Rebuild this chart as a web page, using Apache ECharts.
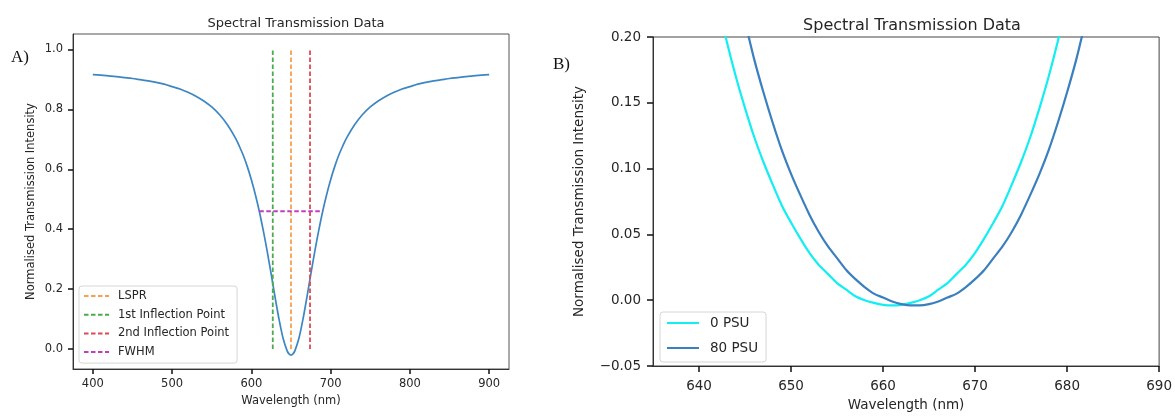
<!DOCTYPE html>
<html>
<head>
<meta charset="utf-8">
<script src="https://cdn.jsdelivr.net/npm/echarts@6/dist/echarts.min.js"></script>
<style>
  html, body { margin: 0; padding: 0; background: #fff; }
  #chart { width: 1175px; height: 417px; }
</style>
</head>
<body>
<div id="chart"></div>
<script>
// ---- panel A: full spectrum ----
const waveA = [400, 410, 420, 430, 440, 450, 460, 470, 480, 490, 500, 510, 520, 530, 540, 550, 560, 570, 580, 585, 590, 595,
  600, 605, 610, 615, 620, 625, 630, 635, 640, 645, 647.5, 650, 652.5, 655, 660, 665, 670, 675, 680, 685, 690, 695, 700,
  705, 710, 715, 720, 730, 740, 750, 760, 770, 780, 790, 800, 810, 820, 830, 840, 850, 860, 870, 880, 890, 900]
const transA = [0.916, 0.914, 0.912, 0.909, 0.906, 0.903, 0.899, 0.895, 0.890, 0.884, 0.876, 0.868, 0.857, 0.844, 0.828, 0.808, 0.782, 0.748, 0.704, 0.676, 0.645, 0.608,
  0.565, 0.516, 0.460, 0.396, 0.326, 0.250, 0.172, 0.098, 0.036, -0.005, -0.016, -0.020, -0.016, -0.005, 0.036, 0.098, 0.172, 0.250, 0.326, 0.396, 0.460, 0.516, 0.565,
  0.608, 0.645, 0.676, 0.704, 0.748, 0.782, 0.808, 0.828, 0.844, 0.857, 0.868, 0.876, 0.884, 0.890, 0.895, 0.899, 0.903, 0.906, 0.909, 0.912, 0.914, 0.916]
const lsprX = 650
const inflect1X = 627
const inflect2X = 674
const markerY = [0, 1]
const fwhmX = [610, 690]
const fwhmY = 0.46
const xTicksA = [400, 500, 600, 700, 800, 900]
const yTicksA = [0, 0.2, 0.4, 0.6, 0.8, 1.0]

// ---- panel B: zoom on the dip ----
const wave0 = [641, 642, 643, 644, 645, 646, 647, 648, 649, 650, 651, 652, 653, 654, 655, 656, 657, 658, 659, 660,
  661, 662, 663, 664, 665, 666, 667, 668, 669, 670, 671, 672, 673, 674, 675, 676, 677, 678, 679, 680, 681]
const trans0 = [0.260, 0.227, 0.197, 0.170, 0.146, 0.124, 0.105, 0.088, 0.072, 0.059, 0.047, 0.036, 0.027, 0.020, 0.013, 0.008, 0.003, 0.000, -0.002, -0.0035,
  -0.004, -0.0035, -0.002, 0.000, 0.003, 0.008, 0.013, 0.020, 0.027, 0.036, 0.047, 0.059, 0.072, 0.088, 0.105, 0.124, 0.146, 0.170, 0.197, 0.227, 0.260]
const wave80 = [644, 645, 646, 647, 648, 649, 650, 651, 652, 653, 654, 655, 656, 657, 658, 659, 660, 661, 662, 663,
  664, 665, 666, 667, 668, 669, 670, 671, 672, 673, 674, 675, 676, 677, 678, 679, 680, 681, 682, 683]
const trans80 = [0.243, 0.212, 0.183, 0.158, 0.135, 0.114, 0.096, 0.080, 0.065, 0.052, 0.041, 0.032, 0.023, 0.016, 0.010, 0.005, 0.002, -0.001, -0.003, -0.004,
  -0.004, -0.003, -0.001, 0.002, 0.005, 0.010, 0.016, 0.023, 0.032, 0.041, 0.052, 0.065, 0.080, 0.096, 0.114, 0.135, 0.158, 0.183, 0.212, 0.243]
const xTicksB = [640, 650, 660, 670, 680, 690]
const yTicksB = [-0.05, 0, 0.05, 0.1, 0.15, 0.2]

const zip = (xs, ys) => xs.map((x, i) => [x, ys[i]])
const vline = x => markerY.map(y => [x, y])

const FONT = 'DejaVu Sans'
const TXT = '#262626'

// shared axis look, matplotlib style: box from the grid, ticks outside, no split lines
function axis(opts) {
  const { ticks, fmt, size, margin, tickLen, ...rest } = opts
  return {
    type: 'value',
    axisLine: { show: true, onZero: false, lineStyle: { color: '#333', width: 1 } },
    axisTick: { show: true, inside: false, length: tickLen, customValues: ticks, lineStyle: { color: '#111', width: 1.5 } },
    axisLabel: { customValues: ticks, formatter: fmt, color: TXT, fontFamily: FONT, fontSize: size, margin: margin },
    splitLine: { show: false },
    nameTextStyle: { color: TXT, fontFamily: FONT, fontSize: size },
    nameLocation: 'middle',
    ...rest
  }
}

const chart = echarts.init(document.getElementById('chart'))

const dash = [4.5, 2.5]

// legend: line only, hide the marker ECharts adds for line series
const legendBase = {
  orient: 'vertical',
  borderColor: '#d6d6d6', borderWidth: 1, borderRadius: 3, backgroundColor: 'rgba(255,255,255,0.8)',
  itemStyle: { opacity: 0 }
}

chart.setOption({
  animation: false,
  backgroundColor: '#fff',
  title: [
    { text: 'Spectral Transmission Data', left: 291, top: 12, textAlign: 'center',
      textStyle: { fontFamily: FONT, fontSize: 13, fontWeight: 'normal', color: TXT } },
    { text: 'Spectral Transmission Data', left: 907, top: 13, textAlign: 'center',
      textStyle: { fontFamily: FONT, fontSize: 16, fontWeight: 'normal', color: TXT } }
  ],
  graphic: [
    { type: 'text', left: 11, top: 49, style: { text: 'A)', font: '17px "Liberation Serif"', fill: '#111' } },
    { type: 'text', left: 553, top: 56, style: { text: 'B)', font: '17px "Liberation Serif"', fill: '#111' } }
  ],
  grid: [
    { left: 73, top: 34, width: 436, height: 335, show: true, borderColor: '#555', borderWidth: 1 },
    { left: 653, top: 37, width: 509, height: 332, show: true, borderColor: '#444', borderWidth: 1 }
  ],
  xAxis: [
    axis({ gridIndex: 0, position: 'bottom', min: 375, max: 925, ticks: xTicksA, fmt: v => String(v), size: 11.5, margin: 9, tickLen: 5,
      name: 'Wavelength (nm)', nameGap: 25 }),
    axis({ gridIndex: 1, position: 'bottom', min: 635, max: 690, ticks: xTicksB, fmt: v => String(v), size: 13.5, margin: 13, tickLen: 6,
      name: 'Wavelength (nm)', nameGap: 32 })
  ],
  yAxis: [
    axis({ gridIndex: 0, position: 'left', min: -0.0665, max: 1.0515, ticks: yTicksA, fmt: v => v.toFixed(1), size: 11.5, margin: 10, tickLen: 5,
      name: 'Normalised Transmission Intensity', nameGap: 36 }),
    axis({ gridIndex: 1, position: 'left', min: -0.05, max: 0.2, ticks: yTicksB,
      fmt: v => (v < 0 ? '\u2212' + Math.abs(v).toFixed(2) : v.toFixed(2)), size: 13.5, margin: 12, tickLen: 6,
      name: 'Normalised Transmission Intensity', nameGap: 67 })
  ],
  legend: [
    Object.assign({}, legendBase, {
      left: 79, top: 286, itemWidth: 25, itemHeight: 12, itemGap: 6.7,
      padding: [4, 8, 5, 4],
      textStyle: { fontFamily: FONT, fontSize: 11.5, color: TXT, padding: [0, 0, 0, 4] },
      data: ['LSPR', '1st Inflection Point', '2nd Inflection Point', 'FWHM']
    }),
    Object.assign({}, legendBase, {
      left: 660, top: 312, itemWidth: 32, itemHeight: 14, itemGap: 11,
      padding: [4, 8, 7, 6],
      textStyle: { fontFamily: FONT, fontSize: 13.5, color: TXT, padding: [0, 0, 0, 6] },
      data: ['0 PSU', '80 PSU']
    })
  ],
  series: [
    { name: 'Spectrum', type: 'line', xAxisIndex: 0, yAxisIndex: 0, data: zip(waveA, transA), smooth: 0.3,
      symbol: 'none', lineStyle: { color: '#3d86c4', width: 1.7 } },
    { name: 'LSPR', type: 'line', xAxisIndex: 0, yAxisIndex: 0, data: vline(lsprX), symbol: 'none',
      itemStyle: { color: '#f7a14e' }, lineStyle: { color: '#f7a14e', width: 1.8, type: dash } },
    { name: '1st Inflection Point', type: 'line', xAxisIndex: 0, yAxisIndex: 0, data: vline(inflect1X), symbol: 'none',
      itemStyle: { color: '#4aac4a' }, lineStyle: { color: '#4aac4a', width: 1.8, type: dash } },
    { name: '2nd Inflection Point', type: 'line', xAxisIndex: 0, yAxisIndex: 0, data: vline(inflect2X), symbol: 'none',
      itemStyle: { color: '#dc4a55' }, lineStyle: { color: '#dc4a55', width: 1.8, type: dash } },
    { name: 'FWHM', type: 'line', xAxisIndex: 0, yAxisIndex: 0, data: fwhmX.map(x => [x, fwhmY]), symbol: 'none',
      itemStyle: { color: '#c23cc2' }, lineStyle: { color: '#c23cc2', width: 1.8, type: dash } },
    { name: '0 PSU', type: 'line', xAxisIndex: 1, yAxisIndex: 1, data: zip(wave0, trans0), smooth: 0.3, symbol: 'none',
      itemStyle: { color: '#12eef2' }, lineStyle: { color: '#12eef2', width: 2.2 } },
    { name: '80 PSU', type: 'line', xAxisIndex: 1, yAxisIndex: 1, data: zip(wave80, trans80), smooth: 0.3, symbol: 'none',
      itemStyle: { color: '#3a7fbf' }, lineStyle: { color: '#3a7fbf', width: 2.2 } }
  ]
})
</script>
</body>
</html>
